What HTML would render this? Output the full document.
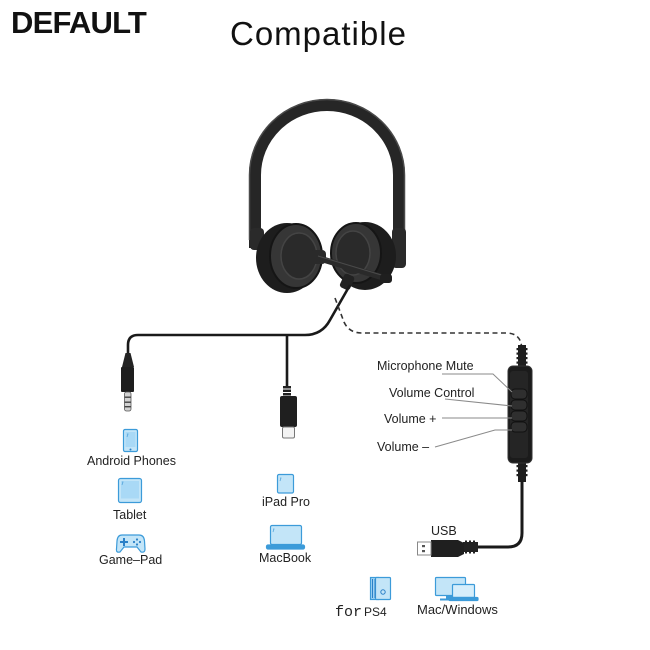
<!DOCTYPE html>
<html><head><meta charset="utf-8"><style>
html,body{margin:0;padding:0;background:#fff;}
svg{display:block;}
text{font-family:"Liberation Sans",Arial,sans-serif;fill:#222;}
</style></head><body>
<svg width="650" height="650" viewBox="0 0 650 650" xmlns="http://www.w3.org/2000/svg">
<rect width="650" height="650" fill="#fff"/>
<!-- titles -->
<text x="11" y="33" font-size="31" font-weight="bold" letter-spacing="-0.8" style="fill:#111">DEFAULT</text>
<text x="230" y="45" font-size="33" letter-spacing="1" style="fill:#111">Compatible</text>

<!-- headband -->
<path d="M255 248 L255 175 A72 70 0 0 1 399 175 L399 262" fill="none" stroke="#262626" stroke-width="12"/>
<path d="M249.5 240 L249.5 175 A77.5 75.5 0 0 1 404.5 175 L404.5 255" fill="none" stroke="#4a4a4a" stroke-width="1.5"/>
<!-- hinges -->
<rect x="250" y="228" width="14" height="22" rx="4" fill="#2a2a2a"/>
<rect x="392" y="228" width="14" height="40" rx="4" fill="#2a2a2a"/>

<!-- left ear cup -->
<ellipse cx="287" cy="258" rx="31" ry="35" fill="#1d1d1d"/>
<ellipse cx="296" cy="256" rx="26" ry="32" fill="#363636" stroke="#151515" stroke-width="2"/>
<ellipse cx="299" cy="256" rx="18" ry="23" fill="#2a2a2a" stroke="#444" stroke-width="1.5"/>
<!-- right ear cup -->
<ellipse cx="365" cy="256" rx="31" ry="34" fill="#1d1d1d"/>
<ellipse cx="356" cy="253" rx="25" ry="30" fill="#363636" stroke="#151515" stroke-width="2"/>
<ellipse cx="353" cy="253" rx="17" ry="22" fill="#2a2a2a" stroke="#444" stroke-width="1.5"/>

<!-- mic boom -->
<rect x="310" y="250" width="16" height="14" rx="4" fill="#2a2a2a"/>
<path d="M318 258 L388 279" stroke="#2a2a2a" stroke-width="6" stroke-linecap="round"/>
<path d="M318 256 L388 277" stroke="#4a4a4a" stroke-width="1"/>
<rect x="380" y="274" width="12" height="9" rx="3" fill="#1f1f1f"/>
<!-- cable exit -->
<rect x="341" y="274" width="11" height="15" rx="3" fill="#222" transform="rotate(25 346 283)"/>

<!-- main cable -->
<path d="M350 285 L330 320 Q322 335 305 335 L138 335 Q128 335 128 345 L128 354" fill="none" stroke="#1a1a1a" stroke-width="2.6"/>
<!-- USB-C branch -->
<path d="M287 335 L287 388" fill="none" stroke="#1a1a1a" stroke-width="2.6"/>
<g fill="#222">
<rect x="283" y="386" width="8" height="2.5"/><rect x="283" y="389.5" width="8" height="2.5"/><rect x="283" y="393" width="8" height="2.5"/>
</g>
<rect x="280" y="396" width="17" height="31" rx="2" fill="#1f1f1f"/>
<rect x="282.5" y="427" width="12" height="11" rx="1.5" fill="#f3f3f3" stroke="#777" stroke-width="1"/>

<!-- 3.5mm jack -->
<path d="M125.5 353 L130.5 353 L134 367 L122 367 Z" fill="#232323"/>
<rect x="121" y="367" width="13" height="25" rx="1" fill="#1e1e1e"/>
<rect x="124.5" y="392" width="6.5" height="19" rx="2" fill="#d2d2d2" stroke="#555" stroke-width="0.8"/>
<rect x="124.5" y="396.5" width="6.5" height="1.4" fill="#444"/>
<rect x="124.5" y="401.5" width="6.5" height="1.4" fill="#444"/>
<rect x="124.5" y="406" width="6.5" height="1.4" fill="#444"/>

<!-- dashed connector -->
<path d="M335 298 L344 322 Q349 333 362 333 L506 333 Q520 333 521.5 346" fill="none" stroke="#333" stroke-width="1.6" stroke-dasharray="5 3.5"/>

<!-- remote -->
<g fill="#1e1e1e">
<rect x="518" y="345" width="8" height="22"/>
<rect x="516.5" y="348" width="11" height="2.2"/><rect x="516.5" y="352.5" width="11" height="2.2"/><rect x="516.5" y="357" width="11" height="2.2"/><rect x="516.5" y="361.5" width="11" height="2.2"/>
<rect x="518" y="462" width="8" height="20"/>
<rect x="516.5" y="465" width="11" height="2.2"/><rect x="516.5" y="469.5" width="11" height="2.2"/><rect x="516.5" y="474" width="11" height="2.2"/>
</g>
<rect x="508" y="366" width="24" height="97" rx="5" fill="#1b1b1b" stroke="#333" stroke-width="1"/>
<rect x="510" y="371" width="18" height="87" rx="3" fill="#252525"/>
<g fill="#2f2f2f" stroke="#111" stroke-width="1">
<rect x="511" y="389" width="16" height="10" rx="4"/>
<rect x="511" y="400" width="16" height="10" rx="4"/>
<rect x="511" y="411" width="16" height="10" rx="4"/>
<rect x="511" y="422" width="16" height="10" rx="4"/>
</g>

<!-- leader lines -->
<g fill="none" stroke="#8a8a8a" stroke-width="1">
<path d="M442 374 L493 374 L512 392"/>
<path d="M445 399 L512 406"/>
<path d="M442 418 L512 418"/>
<path d="M435 447 L495 430 L512 430"/>
</g>
<g font-size="12.5">
<text x="377" y="370">Microphone Mute</text>
<text x="389" y="397">Volume Control</text>
<text x="384" y="423">Volume +</text>
<text x="377" y="451">Volume –</text>
</g>

<!-- cable to USB -->
<path d="M522 481 L522 533 Q522 547 508 547 L476 547" fill="none" stroke="#1a1a1a" stroke-width="3"/>
<g fill="#222">
<rect x="463" y="542" width="15" height="10"/>
<rect x="465" y="540.5" width="2" height="13"/><rect x="469" y="540.5" width="2" height="13"/><rect x="473" y="540.5" width="2" height="13"/>
</g>
<path d="M431 540 L458 540 L464 543 L464 554 L458 557 L431 557 Z" fill="#1f1f1f"/>
<rect x="417.5" y="542" width="13.5" height="13" fill="#fff" stroke="#888" stroke-width="1"/>
<rect x="422" y="545" width="3" height="2.2" fill="#555"/>
<rect x="422" y="550" width="3" height="2.2" fill="#555"/>
<text x="431" y="535" font-size="12.5">USB</text>

<!-- icons -->
<g stroke="#3c9bd9" stroke-width="1.2" fill="#c3e5f8">
<rect x="123.5" y="429.5" width="14" height="22" rx="1.5"/>
<rect x="125.5" y="432" width="10" height="15" fill="#a9d9f6" stroke="none"/>
<rect x="118.5" y="478.5" width="23" height="24" rx="2"/>
<rect x="121" y="481" width="18" height="17.5" fill="#a9d9f6" stroke="none"/>
<path d="M122 535 L139 535 Q144 535 144.5 541 L145 549 Q145 553 141 552 L137 547 L124 547 L120 552 Q116 553 116.5 549 L117 541 Q117.5 535 122 535 Z"/>
<rect x="277.5" y="474.5" width="16" height="18.5" rx="1.5"/>
<rect x="270.5" y="525.5" width="31" height="19" rx="1.5"/>
<rect x="266.5" y="545" width="38" height="4" rx="1.5" fill="#3c9bd9"/>
<rect x="370.5" y="577.5" width="8" height="22" fill="#9fd3f3"/>
<rect x="375.5" y="577.5" width="15" height="22" rx="1"/>
<rect x="435.5" y="577.5" width="30" height="18" rx="1"/>
<rect x="446" y="595" width="6" height="4" fill="#3c9bd9" stroke="none"/>
<rect x="440" y="598.5" width="16" height="2" fill="#3c9bd9" stroke="none"/>
<rect x="452.5" y="584.5" width="22" height="13" rx="1" fill="#d6eefb"/>
<rect x="449" y="597.5" width="29" height="3" rx="1" fill="#3c9bd9"/>
</g>
<g fill="#2b80c7">
<circle cx="130.5" cy="449.5" r="1"/>
<rect x="120" y="541" width="8" height="2"/><rect x="123" y="538" width="2" height="8"/>
<circle cx="137" cy="539.5" r="1.1"/><circle cx="140" cy="542" r="1.1"/><circle cx="137" cy="544.5" r="1.1"/><circle cx="134" cy="542" r="1.1"/>
<rect x="372" y="579" width="1" height="19"/><rect x="374.5" y="579" width="1" height="19"/>
<circle cx="383" cy="592" r="2.2" fill="none" stroke="#2b80c7" stroke-width="1"/>
</g>
<g fill="none" stroke="#5aa8dd" stroke-width="0.8">
<path d="M127 434 l1 0 l-1 3"/><path d="M122 482 l1 0 l-1 3"/><path d="M280 478 l1 0 l-1 3"/><path d="M273 529 l1 0 l-1 3"/>
</g>

<g font-size="12.5">
<text x="87" y="465">Android Phones</text>
<text x="113" y="519">Tablet</text>
<text x="99" y="564">Game–Pad</text>
<text x="262" y="506">iPad Pro</text>
<text x="259" y="562">MacBook</text>
<text x="417" y="614" font-size="13">Mac/Windows</text>
</g>
<text x="335" y="616" font-size="15" style="font-family:'Liberation Mono',monospace">for</text>
<text x="364" y="616" font-size="12">PS4</text>
</svg>
</body></html>
